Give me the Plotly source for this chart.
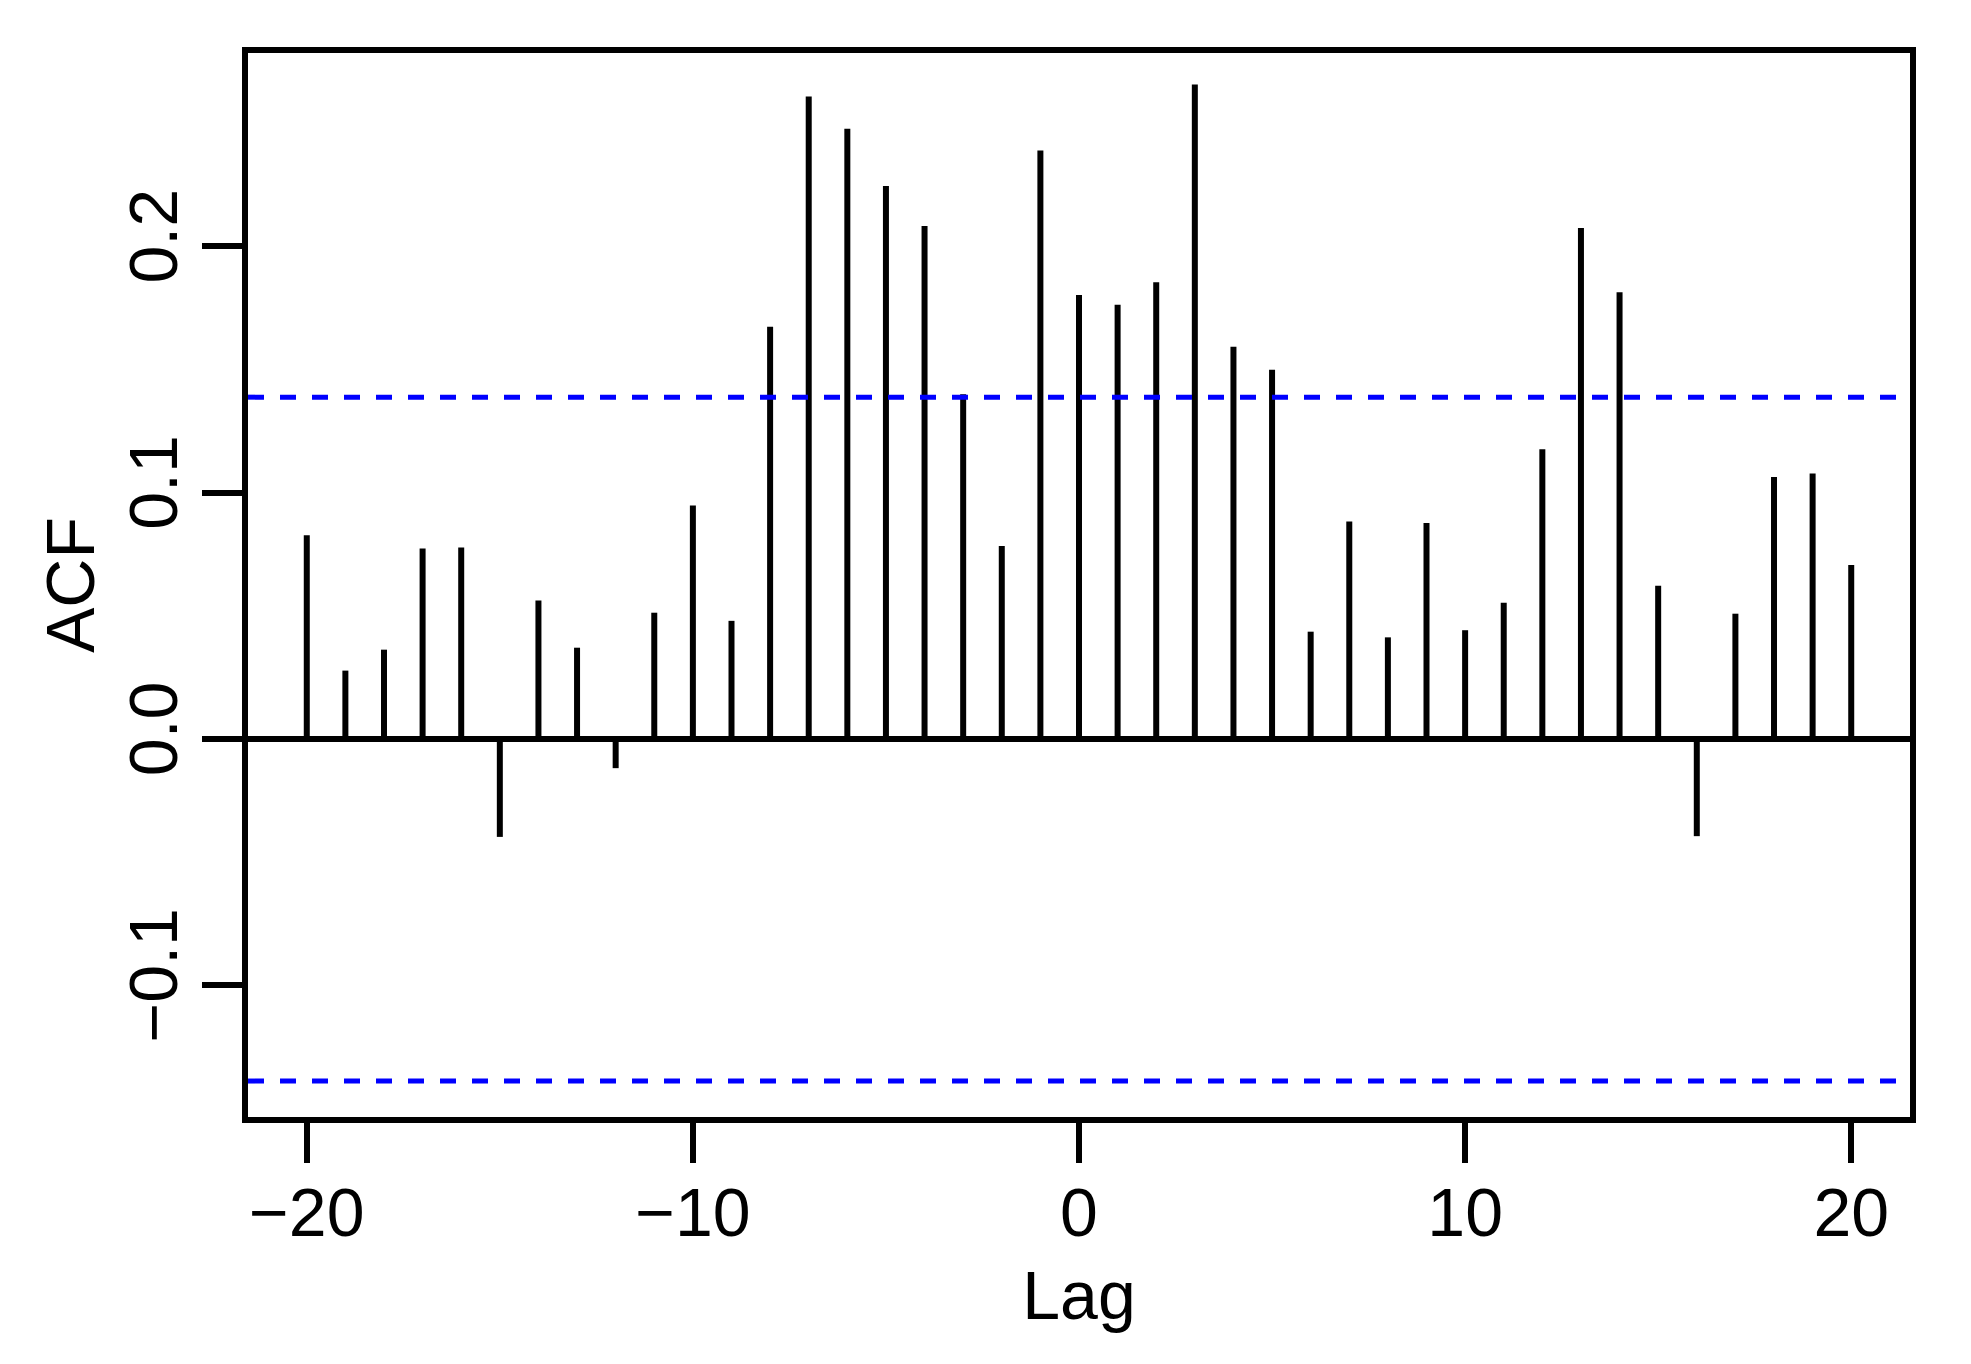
import plotly.graph_objects as go

# cross-correlation values (lag -20 .. 20)
lags = list(range(-20, 21))
acf = [
    0.0827, 0.0278, 0.0363, 0.0774, 0.0778, -0.0397, 0.0563, 0.0371, -0.0118, 0.0513,
    0.0948, 0.0480, 0.1674, 0.2608, 0.2478, 0.2245, 0.2083, 0.1400, 0.0784, 0.2389,
    0.1803, 0.1763, 0.1854, 0.2657, 0.1593, 0.1499, 0.0436, 0.0883, 0.0413, 0.0877,
    0.0442, 0.0553, 0.1177, 0.2075, 0.1814, 0.0622, -0.0394, 0.0509, 0.1064, 0.1078,
    0.0707,
]
conf_limit = 0.1388
x_ticks = [-20, -10, 0, 10, 20]
y_ticks = [-0.1, 0.0, 0.1, 0.2]
y_tick_text = ["\u22120.1", "0.0", "0.1", "0.2"]
x_tick_text = ["\u221220", "\u221210", "0", "10", "20"]

FONT = "Liberation Sans, Arial, Helvetica, sans-serif"
LW = 6

# build vertical stems (type = "h")
xs, ys = [], []
for lag, v in zip(lags, acf):
    xs += [lag, lag, None]
    ys += [0, v, None]

fig = go.Figure()
fig.add_trace(go.Scatter(
    x=xs, y=ys, mode="lines",
    line=dict(color="black", width=LW),
    hoverinfo="skip", showlegend=False,
))

for c in (conf_limit, -conf_limit):
    fig.add_shape(
        type="line", xref="paper", x0=0, x1=1, yref="y", y0=c, y1=c,
        line=dict(color="#0000FF", width=5, dash="16px,16px"),
    )

# page body has an 8px margin, so margins are shifted to compensate;
# plotly draws the frame outside the plot area, so the area is inset a little
fig.update_layout(
    width=1971, height=1364,
    paper_bgcolor="white", plot_bgcolor="white",
    margin=dict(l=240, r=69, t=45, b=255, autoexpand=False),
    font=dict(family=FONT, size=68, color="black"),
    showlegend=False,
)

fig.update_xaxes(
    range=[-21.522, 21.522],
    tickmode="array", tickvals=x_ticks, ticktext=x_tick_text,
    ticks="outside", ticklen=40, tickwidth=LW, tickcolor="black",
    ticklabelstandoff=-9,
    showline=True, linewidth=LW, linecolor="black", mirror=True,
    showgrid=False, zeroline=False,
    title=dict(text="Lag", font=dict(size=68), standoff=25),
)
fig.update_yaxes(
    range=[-0.1534, 0.2785],
    tickmode="array", tickvals=y_ticks, ticktext=y_tick_text, tickangle=-90,
    ticks="outside", ticklen=40, tickwidth=LW, tickcolor="black",
    ticklabelstandoff=-2,
    showline=True, linewidth=LW, linecolor="black", mirror=True,
    showgrid=False, zeroline=True, zerolinecolor="black", zerolinewidth=LW,
    title=dict(text="ACF", font=dict(size=68), standoff=0),
)

fig.write_html("out.html")
